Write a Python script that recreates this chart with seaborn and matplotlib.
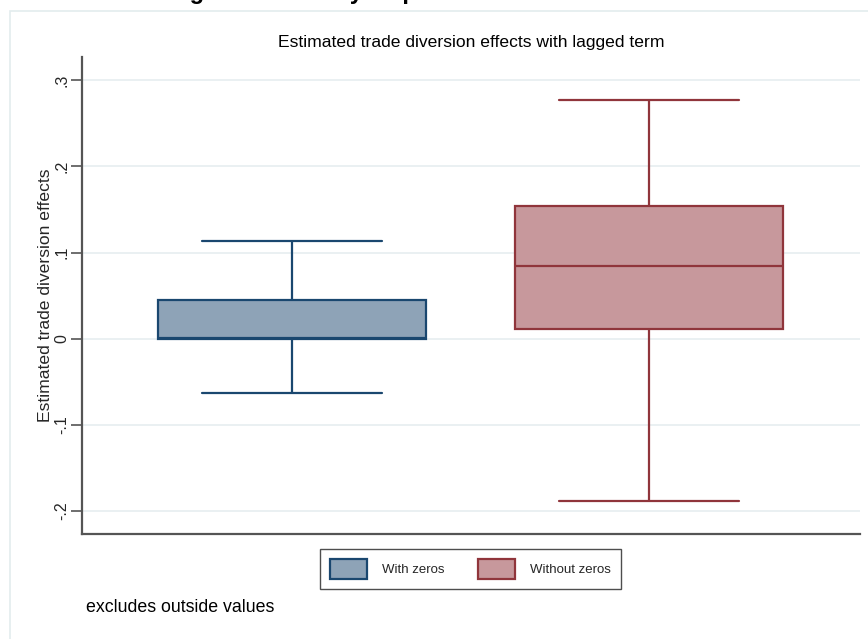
import numpy as np
import pandas as pd
import seaborn as sns
import matplotlib.pyplot as plt
from matplotlib.patches import Patch, Rectangle

# Box-plot summaries (outside values excluded): lower whisker, Q1, median, Q3, upper whisker
groups = ["With zeros", "Without zeros"]
whisker_low = [-0.063, -0.188]
q1 = [0.000, 0.0115]
median = [0.0012, 0.0845]
q3 = [0.0452, 0.1540]
whisker_high = [0.1136, 0.2775]

fills = ["#8ea3b7", "#c7989c"]
edges = ["#1a476f", "#90353b"]

ytick_vals = [-0.2, -0.1, 0.0, 0.1, 0.2, 0.3]
ytick_labels = ["-.2", "-.1", "0", ".1", ".2", ".3"]

BOX_WIDTH = 0.75
CAP_WIDTH = 0.505

# Five ordered values per group reproduce the summary exactly with whis=(0, 100)
rows = []
for g, lo, a, m, b, hi in zip(groups, whisker_low, q1, median, q3, whisker_high):
    for v in (lo, a, m, b, hi):
        rows.append({"group": g, "value": v})
df = pd.DataFrame(rows)

sns.set_theme(style="white")
plt.rcParams["font.family"] = ["Liberation Sans", "DejaVu Sans"]

W, H = 868, 639
fig = plt.figure(figsize=(W / 100, H / 100), dpi=100)
fig.patch.set_facecolor("white")

# light graph-region frame
fig.add_artist(Rectangle((10 / W, -0.1), 1.2, 1 - 11 / H + 0.1, transform=fig.transFigure,
                         fill=False, edgecolor="#e3ecee", lw=1.2))

ax = fig.add_axes([82 / W, 1 - 534 / H, (860 - 82) / W, (534 - 57) / H])
ax.set_facecolor("white")

for g, fc, ec in zip(groups, fills, edges):
    sns.boxplot(data=df[df["group"] == g], x="group", y="value", order=groups,
                color=fc, linecolor=ec, saturation=1, width=BOX_WIDTH, whis=(0, 100),
                linewidth=1.6, showfliers=False, ax=ax)

# widen the whisker caps (Stata-style caps span two thirds of the box)
for line in ax.lines:
    xs = np.asarray(line.get_xdata(), dtype=float)
    ys = np.asarray(line.get_ydata(), dtype=float)
    if len(xs) == 2 and ys[0] == ys[1] and abs(xs[1] - xs[0]) < BOX_WIDTH * 0.9:
        c = xs.mean()
        line.set_xdata([c - CAP_WIDTH / 2, c + CAP_WIDTH / 2])

ax.set_xlim(-0.588, 1.59)
ax.set_ylim(-0.2265, 0.3268)
ax.set_yticks(ytick_vals)
ax.set_yticklabels(ytick_labels, rotation=90, va="center", fontsize=11.5)
ax.set_xticks([])
ax.set_xlabel("")
ax.set_ylabel("Estimated trade diversion effects", fontsize=12.6, labelpad=1)
ax.yaxis.grid(True, color="#e8eff1", lw=1.3)
ax.set_axisbelow(True)
ax.tick_params(axis="y", length=8, width=1.2, color="#555555", pad=1, left=True)
for s in ("top", "right"):
    ax.spines[s].set_visible(False)
for s in ("left", "bottom"):
    ax.spines[s].set_color("#555555")
    ax.spines[s].set_linewidth(1.6)

fig.text(471 / W, 1 - 43 / H, "Estimated trade diversion effects with lagged term",
         ha="center", va="center", fontsize=12.6, color="black")

handles = [Patch(facecolor=fc, edgecolor=ec, lw=1.6) for fc, ec in zip(fills, edges)]
leg = fig.legend(handles, groups, loc="center", ncol=2,
                 bbox_to_anchor=(470.5 / W, 1 - 569 / H), frameon=True, fancybox=False,
                 fontsize=9.5, handlelength=2.8, handleheight=1.9, handletextpad=1.1,
                 columnspacing=2.6, borderpad=0.75)
leg.get_frame().set_edgecolor("#222222")
leg.get_frame().set_linewidth(1.0)

fig.text(86 / W, 1 - 607 / H, "excludes outside values", ha="left", va="center",
         fontsize=12.8, color="black")

# caption line above the graph, mostly beyond the top edge
fig.text(83 / W, 1 + 1 / H, "Estimating the effects by all partners", ha="left",
         va="baseline", fontsize=17, fontweight="bold", color="black")

fig.savefig("out.png", dpi=100)
